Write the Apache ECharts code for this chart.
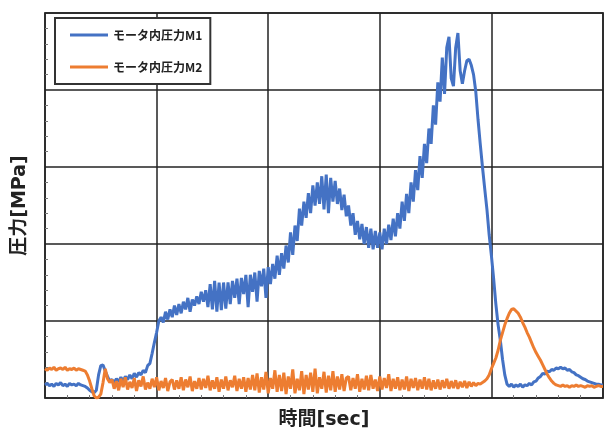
<!DOCTYPE html>
<html><head><meta charset="utf-8">
<script src="https://cdn.jsdelivr.net/npm/echarts@6/dist/echarts.min.js"></script>
<style>html,body{margin:0;padding:0;background:#fff}#c{width:604px;height:435px}</style>
</head><body><div id="c"></div>
<script>
const seriesNames = ['モータ内圧力M1', 'モータ内圧力M2'];
const xAxisName = '時間[sec]';
const yAxisName = '圧力[MPa]';
const timeStep = 0.02; // sample spacing (sec)

// M1 (blue)
const m1 = [
0.17,0.19,0.16,0.18,0.15,0.19,0.17,0.20,0.16,0.18,0.15,0.19,0.17,0.18,0.16,0.19,0.17,0.16,
0.15,0.13,0.10,0.08,0.07,0.10,0.30,0.42,0.43,0.35,0.28,0.22,
0.24,0.20,0.25,0.21,0.27,0.22,0.28,0.24,0.30,0.25,0.32,0.27,0.33,0.30,0.36,0.33,0.42,0.45,0.58,0.72,0.85,1.00,
1.05,0.98,1.12,1.02,1.15,1.05,1.20,1.08,1.22,1.10,1.25,1.15,1.30,1.12,1.28,1.20,1.32,1.22,1.38,1.25,1.40,1.18,1.48,1.15,1.52,1.12,1.50,1.14,
1.50,1.16,1.50,1.22,1.52,1.30,1.55,1.22,1.56,1.35,1.60,1.18,1.60,1.38,1.63,1.25,1.65,1.45,1.68,1.30,
1.70,1.48,1.74,1.55,1.85,1.60,1.88,1.68,1.98,1.76,
2.15,1.86,2.24,2.04,2.46,2.24,2.55,2.34,2.66,2.40,2.76,2.50,2.80,2.52,2.88,2.45,2.90,2.40,2.86,2.55,2.82,2.52,2.72,2.44,2.64,2.36,2.50,2.24,2.40,2.12,
2.30,2.06,2.26,2.00,2.22,1.95,2.20,1.93,2.17,1.95,2.15,1.93,2.20,2.00,2.25,2.05,2.33,2.10,2.40,2.20,2.55,2.30,2.65,2.40,2.80,2.55,2.96,2.70,3.14,2.86,
3.30,3.05,3.50,3.30,3.80,3.55,4.10,3.85,4.42,3.95,4.55,4.69,4.15,4.05,4.55,4.74,4.25,4.08,4.25,4.38,4.40,4.32,4.20,3.98,3.62,
3.30,3.00,2.72,2.45,2.12,1.85,1.55,1.22,0.95,0.75,0.50,0.30,0.18,0.15,0.18,0.14,0.17,0.15,0.18,0.14,0.17,0.16,0.19,0.17,0.21,
0.22,0.26,0.28,0.32,0.31,0.35,0.34,0.37,0.36,0.39,0.38,0.40,0.38,0.39,0.36,0.37,0.34,0.33,0.30,0.29,0.27,0.25,0.24,0.22,0.21,0.20,0.19,0.18,0.18,0.17,0.17
];

// M2 (orange)
const m2 = [
0.38,0.36,0.39,0.37,0.40,0.36,0.38,0.39,0.37,0.40,0.36,0.38,0.37,0.39,0.36,0.38,0.37,0.36,
0.35,0.30,0.22,0.12,0.03,0.00,0.01,0.05,0.20,0.38,0.25,0.20,
0.24,0.12,0.22,0.10,0.25,0.14,0.27,0.11,0.21,0.13,
0.26,0.09,0.23,0.15,0.28,0.11,0.20,0.12,0.25,0.14,
0.27,0.10,0.22,0.13,0.26,0.09,0.21,0.24,0.11,0.23,
0.12,0.27,0.10,0.24,0.14,0.28,0.09,0.22,0.12,0.26,
0.11,0.25,0.13,0.29,0.10,0.23,0.12,0.27,0.08,0.24,
0.12,0.28,0.10,0.23,0.14,0.29,0.09,0.25,0.12,0.27,
0.08,0.26,0.11,0.30,0.10,
0.32,0.07,0.27,0.11,0.34,0.06,0.26,0.12,0.36,0.08,
0.30,0.09,0.33,0.05,0.28,0.12,0.37,0.06,0.25,0.10,
0.35,0.05,0.30,0.11,0.33,0.08,0.38,0.06,0.27,0.12,
0.34,0.07,0.29,0.10,0.35,0.08,0.28,0.11,0.31,0.09,
0.26,
0.28,0.10,0.26,0.12,0.31,0.08,0.25,0.11,0.29,0.10,
0.30,0.12,0.24,0.09,0.28,0.11,0.26,0.13,0.31,0.09,
0.25,0.12,0.27,0.10,0.24,0.11,0.28,0.09,0.25,0.13,
0.26,0.10,0.24,0.12,0.27,0.11,0.25,0.10,0.23,0.12,
0.24,0.11,0.23,0.13,0.25,0.12,0.22,0.13,0.23,0.12,
0.21,0.14,0.22,0.13,0.21,0.15,0.20,0.16,0.19,
0.18,0.20,0.22,0.25,0.30,0.38,0.45,0.52,0.62,0.75,
0.85,0.95,1.03,1.10,1.15,1.16,1.13,1.10,1.05,0.98,
0.92,0.85,0.79,0.72,0.65,0.59,0.54,0.49,0.43,0.37,
0.31,0.26,0.22,0.19,0.17,
0.16,0.15,0.17,0.15,0.16,0.14,0.16,0.15,0.17,0.15,
0.16,0.15,0.14,0.16,0.15,0.16,0.14,0.15,0.16,0.15,0.15
];

const toPairs = arr => arr.map((v, i) => [Math.round(i * timeStep * 100) / 100, v]);
const nameFont = { fontSize: 19, fontWeight: 'bold', color: '#222', fontFamily: '"DejaVu Sans", "Noto Sans CJK JP", sans-serif' };

const chart = echarts.init(document.getElementById('c'), null, { renderer: 'canvas' });
chart.setOption({
  animation: false,
  backgroundColor: '#fff',
  grid: { left: 45, right: 1, top: 13, bottom: 35, show: true, borderColor: '#555', borderWidth: 2 },
  legend: {
    orient: 'vertical', left: 55, top: 18,
    padding: [11, 8, 11, 15], itemGap: 20,
    itemWidth: 38, itemHeight: 3, icon: 'rect',
    backgroundColor: '#fff', borderColor: '#333', borderWidth: 2,
    textStyle: { fontSize: 12, fontWeight: 'bold', color: '#222', fontFamily: 'Noto Sans CJK JP' },
    data: seriesNames
  },
  xAxis: {
    type: 'value', min: 0, max: 5, interval: 1,
    name: xAxisName, nameLocation: 'middle', nameGap: 13, nameTextStyle: nameFont,
    axisLabel: { show: false }, axisLine: { show: false },
    axisTick: { show: false, inside: true },
    minorTick: { show: true, splitNumber: 5, length: 3, lineStyle: { color: '#777' } },
    splitLine: { show: true, lineStyle: { color: '#222', width: 1.5 } }
  },
  yAxis: {
    type: 'value', min: 0, max: 5, interval: 1,
    name: yAxisName, nameLocation: 'middle', nameGap: 15, nameTextStyle: nameFont,
    axisLabel: { show: false }, axisLine: { show: false },
    axisTick: { show: false, inside: true },
    minorTick: { show: true, splitNumber: 5, length: 3, lineStyle: { color: '#777' } },
    splitLine: { show: true, lineStyle: { color: '#222', width: 1.5 } }
  },
  series: [
    { name: seriesNames[0], type: 'line', data: toPairs(m1), showSymbol: false, symbol: 'none',
      color: '#4472C4', lineStyle: { width: 3, color: '#4472C4' } },
    { name: seriesNames[1], type: 'line', data: toPairs(m2), showSymbol: false, symbol: 'none',
      color: '#ED7D31', lineStyle: { width: 3, color: '#ED7D31' } }
  ]
});
</script></body></html>
